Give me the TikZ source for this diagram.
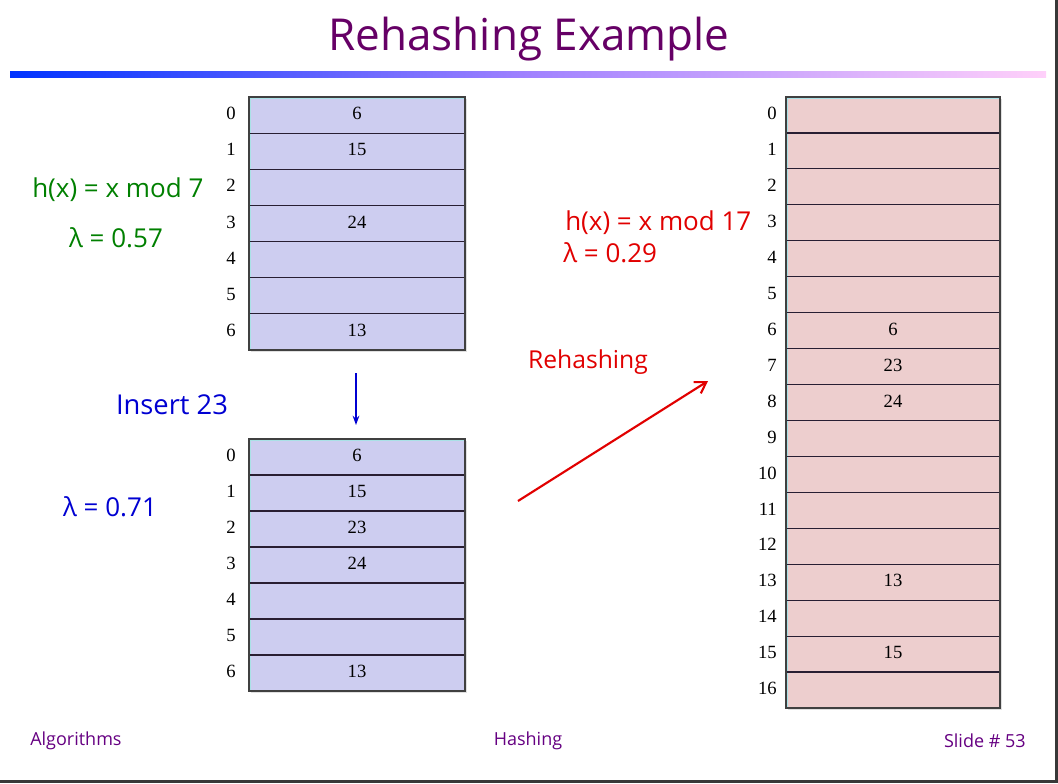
\documentclass[tikz,border=0pt]{standalone}
\usepackage{fontspec}
\setmainfont{Liberation Serif}
\newfontfamily\comic{Open Sans}
\usetikzlibrary{arrows.meta}
\definecolor{titlepurple}{RGB}{102,0,102}
\definecolor{footpurple}{RGB}{102,0,130}
\definecolor{lblgreen}{RGB}{0,128,0}
\definecolor{lblred}{RGB}{225,0,0}
\definecolor{lblblue}{RGB}{0,0,210}
\definecolor{barL}{RGB}{0,51,255}
\definecolor{barM}{RGB}{160,130,255}
\definecolor{barR}{RGB}{255,208,250}
\definecolor{fillA}{RGB}{205,205,240}
\definecolor{fillB}{RGB}{237,206,206}
\definecolor{sepline}{RGB}{40,30,50}
\definecolor{innerc}{RGB}{170,225,230}
\tikzset{
  idx/.style={font=\fontsize{14}{15}\selectfont, inner sep=0pt},
  val/.style={font=\fontsize{14}{15}\selectfont, inner sep=0pt},
  sep/.style={draw=sepline, line width=0.9pt},
  tbox/.style={draw=black!75, line width=0.9pt},
  lbl/.style={font=\comic\fontsize{19.5}{20}\selectfont, inner sep=0pt},
  foot/.style={font=\comic\fontsize{13.5}{14}\selectfont, inner sep=0pt, text=footpurple},
}
\begin{document}
\begin{tikzpicture}[x=0.75pt,y=-0.75pt]
\useasboundingbox (0,0) rectangle (1058,783);
\fill[white] (0,0) rectangle (1058,783);
% slide frame
\draw[line width=2.3pt, black!78] (1056.5,0) -- (1056.5,781.5) -- (0,781.5);
% title
\node[font=\comic\fontsize{33}{36}\selectfont, text=titlepurple, inner sep=0pt] (title) at (529,39) {Rehashing Example};
% gradient bar
\shade[left color=barL, right color=barR, middle color=barM] (10,71) rectangle (1046,77);

% ---------- table A (top left) ----------
\fill[black!12] (251,99) rectangle (467,352);
\fill[fillA] (249,97) rectangle (465,350);
\draw[innerc, line width=0.6pt] (250.5,348.5) |- (463.5,98.5);
\foreach \i in {1,...,6} \draw[sep] (249,{97+36.14*\i}) -- (465,{97+36.14*\i});
\draw[tbox] (249,97) rectangle (465,350);
\foreach \i/\v in {0/6,1/15,2/,3/24,4/,5/,6/13} {
  \node[idx] (ai\i) at (231,{97+36.14*\i+16.5}) {\i};
  \node[val] (av\i) at (357,{97+36.14*\i+16.5}) {\v};
}

% ---------- table B (bottom left) ----------
\fill[black!12] (251,441) rectangle (467,693);
\fill[fillA] (249,439) rectangle (465,691);
\draw[innerc, line width=0.6pt] (250.5,689.5) |- (463.5,440.5);
\foreach \i in {1,...,6} \draw[sep] (249,{439+36*\i}) -- (465,{439+36*\i});
\draw[tbox] (249,439) rectangle (465,691);
\foreach \i/\v in {0/6,1/15,2/23,3/24,4/,5/,6/13} {
  \node[idx] (bi\i) at (231,{439+36*\i+16.5}) {\i};
  \node[val] (bv\i) at (357,{439+36*\i+16.5}) {\v};
}

% ---------- table C (right) ----------
\fill[black!12] (788,99) rectangle (1002,710);
\fill[fillB] (786,97) rectangle (1000,708);
\draw[innerc, line width=0.6pt] (787.5,706.5) |- (998.5,98.5);
\foreach \i in {1,...,16} \draw[sep] (786,{97+35.94*\i}) -- (1000,{97+35.94*\i});
\draw[tbox] (786,97) rectangle (1000,708);
\foreach \i/\v in {0/,1/,2/,3/,4/,5/,6/6,7/23,8/24,9/,10/,11/,12/,13/13,14/,15/15,16/} {
  \node[idx, anchor=east] (ci\i) at (777,{97+35.94*\i+16.5}) {\i};
  \node[val] (cv\i) at (893,{97+35.94*\i+16.5}) {\v};
}

% ---------- labels ----------
\node[lbl, text=lblgreen, anchor=west] (hx7) at (32,190) {h(x) = x mod 7};
\node[lbl, text=lblgreen] (lam57) at (116,238) {λ = 0.57};
\node[lbl, text=lblred, anchor=west] (hx17) at (565,223) {h(x) = x mod 17};
\node[lbl, text=lblred, anchor=west] (lam29) at (563,253) {λ = 0.29};
\node[lbl, text=lblred, font=\comic\fontsize{18.5}{19}\selectfont] (rehash) at (588,362) {Rehashing};
\node[lbl, text=lblblue, font=\comic\fontsize{20.5}{21}\selectfont] (ins) at (172,405) {Insert 23};
\node[lbl, text=lblblue] (lam71) at (110,507) {λ = 0.71};

% arrows
\coordinate (d1) at (356,373);
\coordinate (d2) at (356,425);
\draw[lblblue, line width=1.3pt, -{Stealth[length=7pt,width=5pt]}] (d1) -- (d2);
\coordinate (r1) at (518,501);
\coordinate (r2) at (708,381);
\draw[lblred, line width=1.6pt, -{Straight Barb[length=8pt,width=10pt]}] (r1) -- (r2);

% footer
\node[foot, anchor=west] (fl) at (30,741) {Algorithms};
\node[foot] (fc) at (528,741) {Hashing};
\node[foot, anchor=east] (fr) at (1026,741) {Slide \# 53};
\end{tikzpicture}
\end{document}
